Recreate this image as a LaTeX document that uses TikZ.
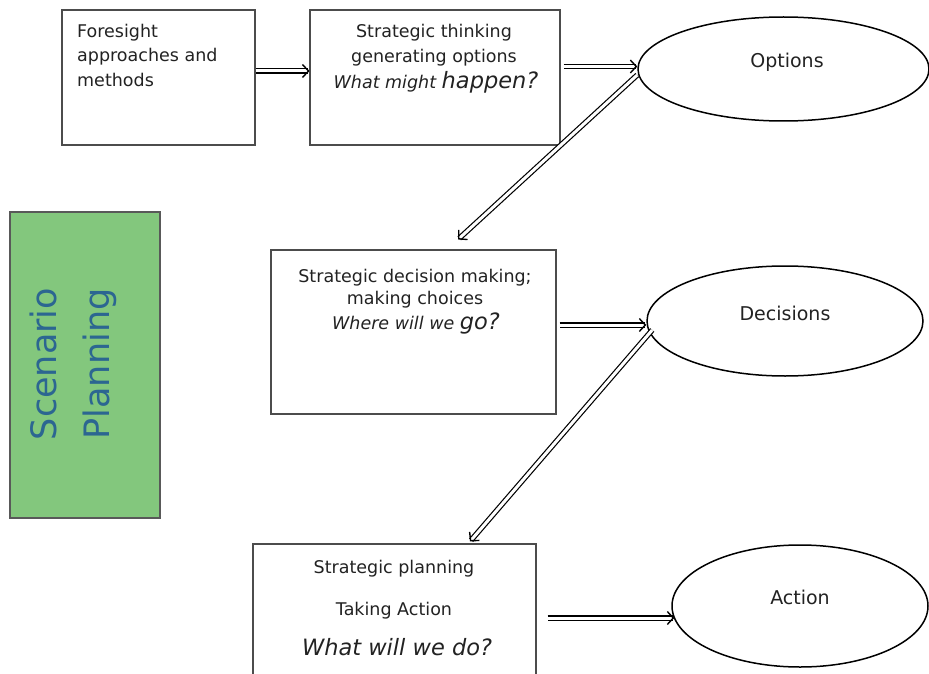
\documentclass[tikz,border=0pt]{standalone}
\usepackage{fontspec}
\setmainfont{DejaVu Sans}
\usetikzlibrary{shapes.geometric,arrows.meta}

\definecolor{sceneGreen}{HTML}{83C77D}
\definecolor{sceneBlue}{HTML}{2C6691}
\definecolor{inkGray}{HTML}{222222}

\begin{document}
\begin{tikzpicture}[
  x=1pt, y=-1pt,
  box/.style={draw=black!70, line width=1.1pt, rectangle, inner sep=0pt},
  ell/.style={draw=black, line width=1.5pt, ellipse, inner sep=0pt},
  txt/.style={anchor=base, inner sep=0pt, text=inkGray, font=\fontsize{17.5}{20}\selectfont},
  big/.style={txt, font=\fontsize{22.5}{24}\selectfont\itshape},
  elltxt/.style={inner sep=0pt, text=inkGray, font=\fontsize{19}{22}\selectfont},
  dbl/.style={double=white, double distance=3pt, line width=1.2pt,
    -{Straight Barb[length=6pt, width=13pt, line width=1.4pt]}}
]
  \clip (0,0) rectangle (929,674);

  % scenario planning side bar
  \node[box, fill=sceneGreen, draw=black!65, minimum width=150pt, minimum height=306pt] (scen) at (85,365) {};
  \node[rotate=90, align=center, text=sceneBlue, inner sep=0pt,
        font=\fontsize{35}{53}\selectfont] (scenlbl) at (73,364) {Scenario\\Planning};

  % top row
  \node[box, minimum width=193pt, minimum height=135pt] (fore) at (158.5,77.5) {};
  \node[txt, anchor=base west] (fore1) at (77,38) {Foresight};
  \node[txt, anchor=base west] (fore2) at (77,62) {approaches and};
  \node[txt, anchor=base west] (fore3) at (77,87) {methods};

  \node[box, minimum width=250pt, minimum height=135pt] (think) at (435,77.5) {};
  \node[txt] (think1) at (434,38) {Strategic thinking};
  \node[txt] (think2) at (434,63) {generating options};
  \node[txt] (think3) at (436,89) {\itshape What might {\fontsize{22.5}{24}\selectfont happen?}};

  \node[ell, minimum width=291pt, minimum height=104pt] (opt) at (783.5,69) {};
  \node[elltxt] (optlbl) at (787,62) {Options};

  % middle row
  \node[box, minimum width=285pt, minimum height=164pt] (decide) at (413.5,332) {};
  \node[txt] (decide1) at (415,282) {Strategic decision making;};
  \node[txt] (decide2) at (415,304) {making choices};
  \node[txt] (decide3) at (416,329) {\itshape Where will we {\fontsize{22.5}{24}\selectfont go?}};

  \node[ell, minimum width=276pt, minimum height=110pt] (dec) at (785,321) {};
  \node[elltxt] (declbl) at (785,313) {Decisions};

  % bottom row
  \node[box, minimum width=283pt, minimum height=156pt] (plan) at (394.5,622) {};
  \node[txt] (plan1) at (394,573) {Strategic planning};
  \node[txt] (plan2) at (394,615) {Taking Action};
  \node[big] (plan3) at (397,655) {What will we do?};

  \node[ell, minimum width=256pt, minimum height=122pt] (act) at (800,606) {};
  \node[elltxt] (actlbl) at (800,597) {Action};

  % arrows
  \draw[dbl] ([yshift=6.5pt]fore.east) -- ([yshift=6.5pt]think.west);
  \draw[dbl] ([xshift=3pt,yshift=11pt]think.east) -- ([yshift=2.5pt]opt.west);
  \draw[dbl] ([yshift=-6pt]opt.west) -- ([xshift=44.5pt,yshift=10pt]decide.north);
  \draw[dbl] ([xshift=3pt,yshift=7pt]decide.east) -- ([yshift=-4pt]dec.west);
  \draw[dbl] ([xshift=6pt,yshift=-9pt]dec.west) -- ([xshift=75.5pt,yshift=2pt]plan.north);
  \draw[dbl] ([xshift=11pt,yshift=4pt]plan.east) -- ([xshift=3pt,yshift=-12pt]act.west);
\end{tikzpicture}
\end{document}
